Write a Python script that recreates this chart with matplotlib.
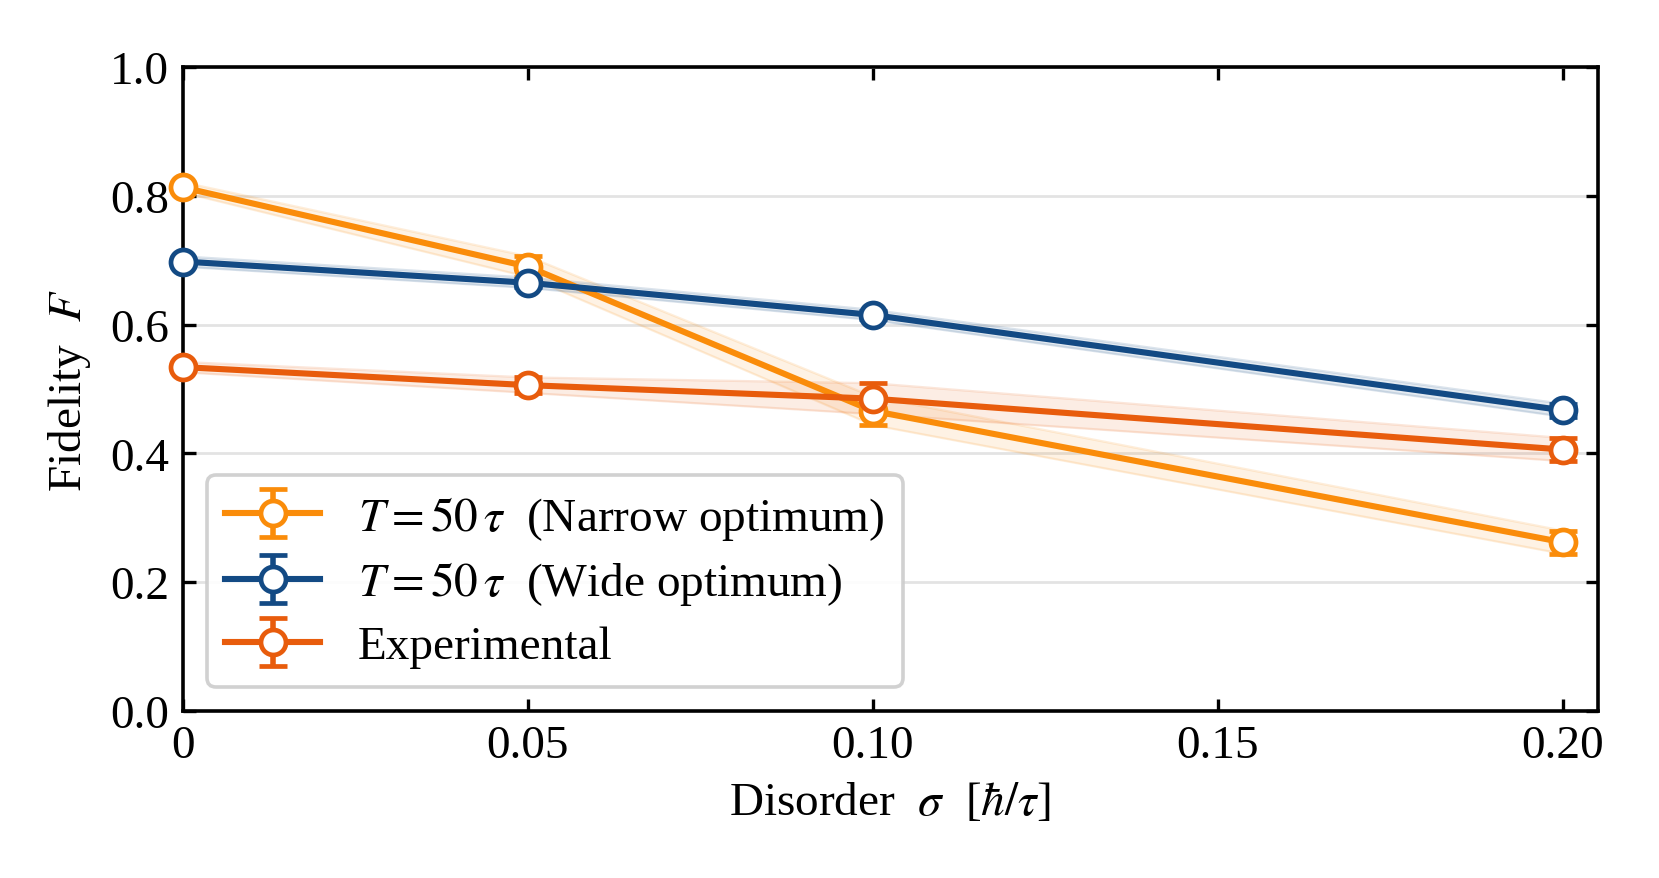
import matplotlib
matplotlib.use("Agg")
import matplotlib.pyplot as plt
import numpy as np

plt.rcParams["font.family"] = ["Liberation Serif", "DejaVu Serif"]
plt.rcParams["mathtext.fontset"] = "stix"

sigma = [0.0, 0.05, 0.10, 0.20]

narrow = [0.813, 0.690, 0.466, 0.262]
narrow_err = [0.0, 0.016, 0.022, 0.018]
wide = [0.698, 0.665, 0.615, 0.467]
wide_err = [0.0, 0.006, 0.006, 0.010]
exper = [0.534, 0.506, 0.485, 0.406]
exper_err = [0.0, 0.012, 0.024, 0.018]

labels = [r"$T = 50\,\tau$  (Narrow optimum)",
          r"$T = 50\,\tau$  (Wide optimum)",
          "Experimental"]
colors = ["#FA8C0A", "#134A84", "#E85C0C"]
series = [(narrow, narrow_err), (wide, wide_err), (exper, exper_err)]

fig = plt.figure(figsize=(8.295, 4.395), dpi=200)
ax = fig.add_axes([0.1103, 0.19, 0.8529, 0.7326])

x = np.array(sigma)
for (y, e), c, lab in zip(series, colors, labels):
    y = np.array(y)
    e = np.array(e)
    band = np.maximum(e, 0.008)
    ax.fill_between(x, y - band, y + band, color=c, alpha=0.11, lw=0, zorder=1)
    ax.plot(x, y - band, color=c, alpha=0.15, lw=0.8, zorder=1)
    ax.plot(x, y + band, color=c, alpha=0.15, lw=0.8, zorder=1)
    ax.errorbar(x, y, yerr=e, color=c, lw=2.2, marker="o", ms=9,
                mfc="white", mec=c, mew=1.7, capsize=5, capthick=2.0,
                elinewidth=2.0, label=lab, zorder=3, clip_on=False)

ax.set_xlim(0, 0.2051)
ax.set_ylim(0, 1.0)
ax.set_xticks([0, 0.05, 0.10, 0.15, 0.20])
ax.set_xticklabels(["0", "0.05", "0.10", "0.15", "0.20"])
ax.set_yticks([0, 0.2, 0.4, 0.6, 0.8, 1.0])
ax.set_yticklabels(["0.0", "0.2", "0.4", "0.6", "0.8", "1.0"])
ax.yaxis.grid(True, color="#e3e3e3", lw=1.0, zorder=0)
ax.set_axisbelow(True)
ax.tick_params(direction="in", top=True, right=True, length=4.5, width=1.2,
               labelsize=17, pad=5)
for s in ax.spines.values():
    s.set_linewidth(1.3)

ax.set_xlabel(r"Disorder  $\sigma$  [$\hbar/\tau$]", fontsize=17, labelpad=5)
ax.set_ylabel(r"Fidelity  $F$", fontsize=17, labelpad=6)

leg = ax.legend(loc="lower left", fontsize=17, frameon=True, fancybox=True,
                shadow=False, handlelength=2.0, borderpad=0.4,
                labelspacing=0.38, framealpha=0.9)
leg.get_frame().set_edgecolor("#cccccc")
leg.get_frame().set_linewidth(1.3)

fig.savefig("out.png", dpi=200)
